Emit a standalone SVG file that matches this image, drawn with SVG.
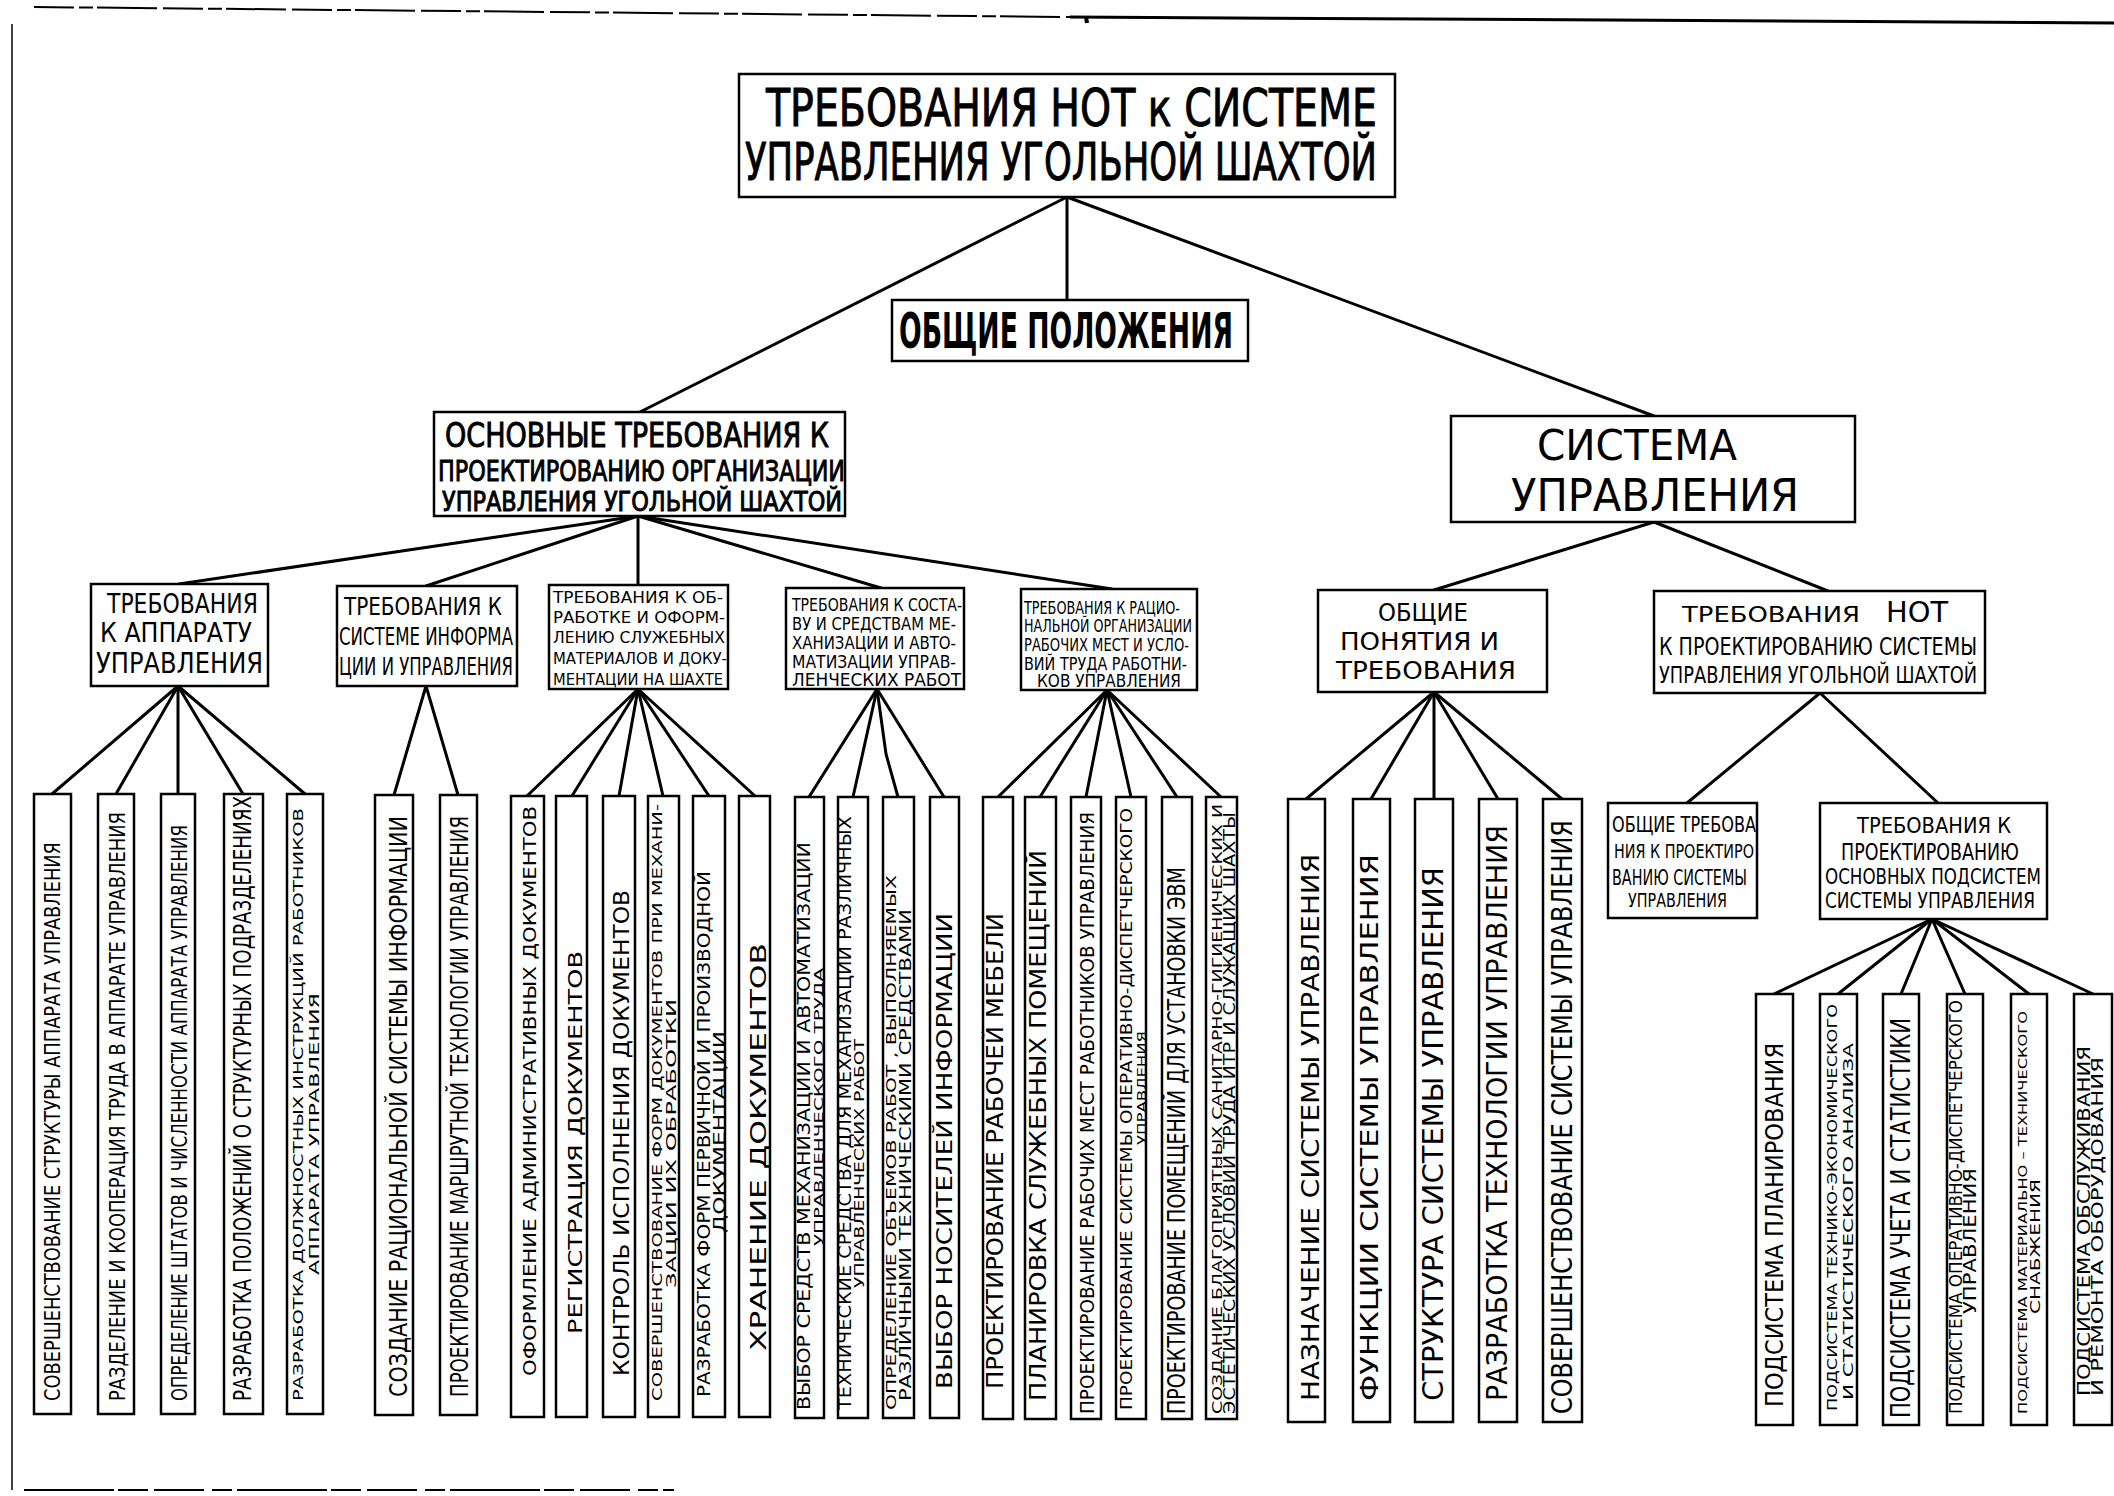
<svg xmlns="http://www.w3.org/2000/svg" width="2114" height="1496" viewBox="0 0 2114 1496">
<style>
.bx{fill:#fff;stroke:#000;stroke-width:2.5}
.lf{fill:#fff;stroke:#000;stroke-width:2.5}
.c{stroke:#000;stroke-width:3;fill:none;stroke-linecap:round}
.fr{stroke:#000;fill:none}
text{font-family:"Liberation Sans Narrow","DejaVu Sans Condensed","Liberation Sans",sans-serif;fill:#000}
.b{font-weight:bold}
.h{stroke:#000;stroke-width:0.9}
</style>
<rect width="2114" height="1496" fill="#fff"/>
<g id="frame">
<line class="fr" x1="34" y1="7" x2="1070" y2="17" stroke-width="2" stroke-dasharray="40 5 14 4 60 6"/>
<line class="fr" x1="1070" y1="17" x2="2114" y2="23" stroke-width="3"/>
<line class="fr" x1="1086" y1="17" x2="1087" y2="23" stroke-width="4"/>
<line class="fr" x1="12" y1="24" x2="12" y2="1490" stroke-width="1.5"/>
<line class="fr" x1="24" y1="1490" x2="674" y2="1490" stroke-width="2" stroke-dasharray="90 4 30 6 50 8 20 5"/>
</g>
<g id="connectors">
<line class="c" x1="1067" y1="197" x2="1067" y2="300" stroke-width="2"/>
<line class="c" x1="1067" y1="197" x2="640" y2="412" stroke-width="2.5"/>
<line class="c" x1="1067" y1="197" x2="1654" y2="416" stroke-width="2.5"/>
<line class="c" x1="638" y1="516" x2="179" y2="584"/>
<line class="c" x1="638" y1="516" x2="426" y2="586"/>
<line class="c" x1="638" y1="516" x2="638" y2="585"/>
<line class="c" x1="638" y1="516" x2="881" y2="588"/>
<line class="c" x1="638" y1="516" x2="1112" y2="589"/>
<line class="c" x1="1654" y1="522" x2="1434" y2="590"/>
<line class="c" x1="1654" y1="522" x2="1828" y2="591"/>
<line class="c" x1="1820" y1="693" x2="1687" y2="803"/>
<line class="c" x1="1820" y1="693" x2="1938" y2="803"/>
<line class="c" x1="178" y1="686" x2="52" y2="794"/>
<line class="c" x1="178" y1="686" x2="116" y2="794"/>
<line class="c" x1="178" y1="686" x2="178" y2="794"/>
<line class="c" x1="178" y1="686" x2="243" y2="794"/>
<line class="c" x1="178" y1="686" x2="305" y2="794"/>
<line class="c" x1="426" y1="686" x2="394" y2="795"/>
<line class="c" x1="426" y1="686" x2="458" y2="795"/>
<line class="c" x1="638" y1="689" x2="527" y2="796"/>
<line class="c" x1="638" y1="689" x2="572" y2="796"/>
<line class="c" x1="638" y1="689" x2="619" y2="796"/>
<line class="c" x1="638" y1="689" x2="663" y2="796"/>
<line class="c" x1="638" y1="689" x2="709" y2="796"/>
<line class="c" x1="638" y1="689" x2="755" y2="796"/>
<line class="c" x1="877" y1="689" x2="809" y2="797"/>
<line class="c" x1="877" y1="689" x2="853" y2="797"/>
<polyline class="c" points="877,689 886,754 898,797"/>
<line class="c" x1="877" y1="689" x2="944" y2="797"/>
<line class="c" x1="1107" y1="690" x2="998" y2="797"/>
<line class="c" x1="1107" y1="690" x2="1040" y2="797"/>
<line class="c" x1="1107" y1="690" x2="1086" y2="797"/>
<line class="c" x1="1107" y1="690" x2="1131" y2="797"/>
<line class="c" x1="1107" y1="690" x2="1177" y2="797"/>
<line class="c" x1="1107" y1="690" x2="1221" y2="797"/>
<line class="c" x1="1434" y1="692" x2="1306" y2="799"/>
<line class="c" x1="1434" y1="692" x2="1371" y2="799"/>
<line class="c" x1="1434" y1="692" x2="1434" y2="799"/>
<line class="c" x1="1434" y1="692" x2="1498" y2="799"/>
<line class="c" x1="1434" y1="692" x2="1562" y2="799"/>
<line class="c" x1="1932" y1="919" x2="1774" y2="994"/>
<line class="c" x1="1932" y1="919" x2="1838" y2="994"/>
<line class="c" x1="1932" y1="919" x2="1901" y2="994"/>
<line class="c" x1="1932" y1="919" x2="1965" y2="994"/>
<line class="c" x1="1932" y1="919" x2="2029" y2="994"/>
<line class="c" x1="1932" y1="919" x2="2093" y2="994"/>
</g>
<g id="title">
<rect class="bx" x="739" y="74" width="656" height="123"/>
<text class="h" x="766" y="126" font-size="52" textLength="611" lengthAdjust="spacingAndGlyphs">ТРЕБОВАНИЯ НОТ к СИСТЕМЕ</text>
<text class="h" x="745" y="180" font-size="51" textLength="632" lengthAdjust="spacingAndGlyphs">УПРАВЛЕНИЯ  УГОЛЬНОЙ ШАХТОЙ</text>
</g>
<g id="obshchie-polozheniya">
<rect class="bx" x="892" y="300" width="356" height="61"/>
<text class="b" x="899" y="348" font-size="49" textLength="334" lengthAdjust="spacingAndGlyphs">ОБЩИЕ ПОЛОЖЕНИЯ</text>
</g>
<g id="osnovnye">
<rect class="bx" x="434" y="412" width="411" height="104"/>
<text class="h" x="445" y="447" font-size="34" textLength="384" lengthAdjust="spacingAndGlyphs">ОСНОВНЫЕ ТРЕБОВАНИЯ К</text>
<text class="h" x="438" y="481" font-size="29" textLength="407" lengthAdjust="spacingAndGlyphs">ПРОЕКТИРОВАНИЮ ОРГАНИЗАЦИИ</text>
<text class="h" x="442" y="511" font-size="26" textLength="400" lengthAdjust="spacingAndGlyphs">УПРАВЛЕНИЯ УГОЛЬНОЙ ШАХТОЙ</text>
</g>
<g id="sistema">
<rect class="bx" x="1451" y="416" width="404" height="106"/>
<text x="1537" y="460" font-size="43" textLength="200" lengthAdjust="spacingAndGlyphs">СИСТЕМА</text>
<text x="1511" y="511" font-size="45" textLength="288" lengthAdjust="spacingAndGlyphs">УПРАВЛЕНИЯ</text>
</g>
<g id="A">
<rect class="bx" x="91" y="584" width="177" height="102"/>
<text x="107" y="613" font-size="26" textLength="151" lengthAdjust="spacingAndGlyphs">ТРЕБОВАНИЯ</text>
<text x="100" y="642" font-size="27" textLength="152" lengthAdjust="spacingAndGlyphs">К АППАРАТУ</text>
<text x="96" y="673" font-size="29" textLength="167" lengthAdjust="spacingAndGlyphs">УПРАВЛЕНИЯ</text>
</g>
<g id="B">
<rect class="bx" x="337" y="586" width="180" height="100"/>
<text x="344" y="615" font-size="25" textLength="158" lengthAdjust="spacingAndGlyphs">ТРЕБОВАНИЯ К</text>
<text x="339" y="645" font-size="25" textLength="174" lengthAdjust="spacingAndGlyphs">СИСТЕМЕ ИНФОРМА</text>
<text x="339" y="675" font-size="25" textLength="174" lengthAdjust="spacingAndGlyphs">ЦИИ И УПРАВЛЕНИЯ</text>
</g>
<g id="C">
<rect class="bx" x="549" y="585" width="179" height="104"/>
<text x="553" y="603" font-size="16" textLength="170" lengthAdjust="spacingAndGlyphs">ТРЕБОВАНИЯ К ОБ-</text>
<text x="553" y="623" font-size="16" textLength="172" lengthAdjust="spacingAndGlyphs">РАБОТКЕ И ОФОРМ-</text>
<text x="553" y="643" font-size="16" textLength="172" lengthAdjust="spacingAndGlyphs">ЛЕНИЮ СЛУЖЕБНЫХ</text>
<text x="553" y="664" font-size="16" textLength="174" lengthAdjust="spacingAndGlyphs">МАТЕРИАЛОВ И ДОКУ-</text>
<text x="553" y="685" font-size="16" textLength="170" lengthAdjust="spacingAndGlyphs">МЕНТАЦИИ НА ШАХТЕ</text>
</g>
<g id="D">
<rect class="bx" x="786" y="588" width="178" height="101"/>
<text x="792" y="611" font-size="18" textLength="170" lengthAdjust="spacingAndGlyphs">ТРЕБОВАНИЯ К СОСТА-</text>
<text x="792" y="630" font-size="18" textLength="164" lengthAdjust="spacingAndGlyphs">ВУ И СРЕДСТВАМ МЕ-</text>
<text x="792" y="649" font-size="18" textLength="164" lengthAdjust="spacingAndGlyphs">ХАНИЗАЦИИ И АВТО-</text>
<text x="792" y="668" font-size="18" textLength="164" lengthAdjust="spacingAndGlyphs">МАТИЗАЦИИ УПРАВ-</text>
<text x="792" y="686" font-size="18" textLength="169" lengthAdjust="spacingAndGlyphs">ЛЕНЧЕСКИХ РАБОТ</text>
</g>
<g id="E">
<rect class="bx" x="1021" y="589" width="176" height="101"/>
<text x="1024" y="614" font-size="17" textLength="156" lengthAdjust="spacingAndGlyphs">ТРЕБОВАНИЯ К РАЦИО-</text>
<text x="1024" y="632" font-size="17" textLength="168" lengthAdjust="spacingAndGlyphs">НАЛЬНОЙ ОРГАНИЗАЦИИ</text>
<text x="1024" y="651" font-size="17" textLength="165" lengthAdjust="spacingAndGlyphs">РАБОЧИХ МЕСТ И УСЛО-</text>
<text x="1024" y="670" font-size="17" textLength="163" lengthAdjust="spacingAndGlyphs">ВИЙ ТРУДА РАБОТНИ-</text>
<text x="1037" y="687" font-size="17" textLength="144" lengthAdjust="spacingAndGlyphs">КОВ  УПРАВЛЕНИЯ</text>
</g>
<g id="F">
<rect class="bx" x="1318" y="590" width="229" height="102"/>
<text x="1378" y="621" font-size="25" textLength="90" lengthAdjust="spacingAndGlyphs">ОБЩИЕ</text>
<text x="1340" y="650" font-size="25" textLength="159" lengthAdjust="spacingAndGlyphs">ПОНЯТИЯ И</text>
<text x="1336" y="679" font-size="25" textLength="180" lengthAdjust="spacingAndGlyphs">ТРЕБОВАНИЯ</text>
</g>
<g id="G">
<rect class="bx" x="1654" y="591" width="331" height="102"/>
<text x="1682" y="622" font-size="22" textLength="178" lengthAdjust="spacingAndGlyphs">ТРЕБОВАНИЯ</text>
<text x="1886" y="622" font-size="29" textLength="62" lengthAdjust="spacingAndGlyphs">НОТ</text>
<text x="1659" y="655" font-size="24" textLength="318" lengthAdjust="spacingAndGlyphs">К ПРОЕКТИРОВАНИЮ СИСТЕМЫ</text>
<text x="1659" y="683" font-size="23" textLength="318" lengthAdjust="spacingAndGlyphs">УПРАВЛЕНИЯ  УГОЛЬНОЙ ШАХТОЙ</text>
</g>
<g id="H">
<rect class="bx" x="1608" y="803" width="149" height="115"/>
<text x="1612" y="832" font-size="21" textLength="144" lengthAdjust="spacingAndGlyphs">ОБЩИЕ ТРЕБОВА</text>
<text x="1614" y="858" font-size="19" textLength="140" lengthAdjust="spacingAndGlyphs">НИЯ К ПРОЕКТИРО</text>
<text x="1612" y="885" font-size="21" textLength="135" lengthAdjust="spacingAndGlyphs">ВАНИЮ СИСТЕМЫ</text>
<text x="1628" y="907" font-size="20" textLength="99" lengthAdjust="spacingAndGlyphs">УПРАВЛЕНИЯ</text>
</g>
<g id="I">
<rect class="bx" x="1820" y="803" width="227" height="116"/>
<text x="1857" y="833" font-size="21" textLength="154" lengthAdjust="spacingAndGlyphs">ТРЕБОВАНИЯ К</text>
<text x="1841" y="860" font-size="23" textLength="178" lengthAdjust="spacingAndGlyphs">ПРОЕКТИРОВАНИЮ</text>
<text x="1825" y="884" font-size="22" textLength="216" lengthAdjust="spacingAndGlyphs">ОСНОВНЫХ ПОДСИСТЕМ</text>
<text x="1825" y="908" font-size="21" textLength="210" lengthAdjust="spacingAndGlyphs">СИСТЕМЫ УПРАВЛЕНИЯ</text>
</g>
<g id="a1"><rect class="lf" x="34" y="794" width="37" height="620"/><text transform="translate(60,1401) rotate(-90)" font-size="22" textLength="559" lengthAdjust="spacingAndGlyphs">СОВЕРШЕНСТВОВАНИЕ СТРУКТУРЫ  АППАРАТА  УПРАВЛЕНИЯ</text></g>
<g id="a2"><rect class="lf" x="98" y="794" width="36" height="620"/><text transform="translate(125,1401) rotate(-90)" font-size="22" textLength="589" lengthAdjust="spacingAndGlyphs">РАЗДЕЛЕНИЕ И КООПЕРАЦИЯ  ТРУДА В АППАРАТЕ  УПРАВЛЕНИЯ</text></g>
<g id="a3"><rect class="lf" x="161" y="794" width="34" height="620"/><text transform="translate(187,1401) rotate(-90)" font-size="22" textLength="576" lengthAdjust="spacingAndGlyphs">ОПРЕДЕЛЕНИЕ ШТАТОВ И ЧИСЛЕННОСТИ АППАРАТА  УПРАВЛЕНИЯ</text></g>
<g id="a4"><rect class="lf" x="224" y="794" width="39" height="620"/><text transform="translate(251,1401) rotate(-90)" font-size="24" textLength="605" lengthAdjust="spacingAndGlyphs">РАЗРАБОТКА  ПОЛОЖЕНИЙ  О  СТРУКТУРНЫХ ПОДРАЗДЕЛЕНИЯХ</text></g>
<g id="a5"><rect class="lf" x="287" y="794" width="36" height="620"/><text transform="translate(303,1401) rotate(-90)" font-size="14" textLength="593" lengthAdjust="spacingAndGlyphs">РАЗРАБОТКА ДОЛЖНОСТНЫХ ИНСТРУКЦИЙ РАБОТНИКОВ</text><text transform="translate(319,1275) rotate(-90)" font-size="14" textLength="282" lengthAdjust="spacingAndGlyphs">АППАРАТА  УПРАВЛЕНИЯ</text></g>
<g id="b1"><rect class="lf" x="375" y="795" width="38" height="620"/><text transform="translate(407,1397) rotate(-90)" font-size="25" textLength="581" lengthAdjust="spacingAndGlyphs">СОЗДАНИЕ  РАЦИОНАЛЬНОЙ  СИСТЕМЫ ИНФОРМАЦИИ</text></g>
<g id="b2"><rect class="lf" x="440" y="795" width="37" height="620"/><text transform="translate(468,1397) rotate(-90)" font-size="25" textLength="581" lengthAdjust="spacingAndGlyphs">ПРОЕКТИРОВАНИЕ МАРШРУТНОЙ  ТЕХНОЛОГИИ УПРАВЛЕНИЯ</text></g>
<g id="c1"><rect class="lf" x="511" y="796" width="33" height="621"/><text transform="translate(536,1376) rotate(-90)" font-size="18" textLength="570" lengthAdjust="spacingAndGlyphs">ОФОРМЛЕНИЕ  АДМИНИСТРАТИВНЫХ ДОКУМЕНТОВ</text></g>
<g id="c2"><rect class="lf" x="556" y="796" width="31" height="621"/><text transform="translate(582,1334) rotate(-90)" font-size="20" textLength="383" lengthAdjust="spacingAndGlyphs">РЕГИСТРАЦИЯ  ДОКУМЕНТОВ</text></g>
<g id="c3"><rect class="lf" x="603" y="796" width="32" height="621"/><text transform="translate(629,1376) rotate(-90)" font-size="21" textLength="486" lengthAdjust="spacingAndGlyphs">КОНТРОЛЬ  ИСПОЛНЕНИЯ  ДОКУМЕНТОВ</text></g>
<g id="c4"><rect class="lf" x="648" y="796" width="31" height="621"/><text transform="translate(662,1401) rotate(-90)" font-size="14" textLength="597" lengthAdjust="spacingAndGlyphs">СОВЕРШЕНСТВОВАНИЕ ФОРМ ДОКУМЕНТОВ ПРИ МЕХАНИ-</text><text transform="translate(676,1288) rotate(-90)" font-size="14" textLength="289" lengthAdjust="spacingAndGlyphs">ЗАЦИИ ИХ ОБРАБОТКИ</text></g>
<g id="c5"><rect class="lf" x="693" y="796" width="32" height="621"/><text transform="translate(710,1397) rotate(-90)" font-size="17" textLength="526" lengthAdjust="spacingAndGlyphs">РАЗРАБОТКА  ФОРМ ПЕРВИЧНОЙ  И  ПРОИЗВОДНОЙ</text><text transform="translate(725,1233) rotate(-90)" font-size="15" textLength="202" lengthAdjust="spacingAndGlyphs">ДОКУМЕНТАЦИИ</text></g>
<g id="c6"><rect class="lf" x="739" y="796" width="31" height="621"/><text transform="translate(766,1351) rotate(-90)" font-size="22" textLength="408" lengthAdjust="spacingAndGlyphs">ХРАНЕНИЕ  ДОКУМЕНТОВ</text></g>
<g id="d1"><rect class="lf" x="795" y="797" width="29" height="621"/><text transform="translate(810,1410) rotate(-90)" font-size="17" textLength="568" lengthAdjust="spacingAndGlyphs">ВЫБОР  СРЕДСТВ МЕХАНИЗАЦИИ  И  АВТОМАТИЗАЦИИ</text><text transform="translate(823,1246) rotate(-90)" font-size="13" textLength="278" lengthAdjust="spacingAndGlyphs">УПРАВЛЕНЧЕСКОГО  ТРУДА</text></g>
<g id="d2"><rect class="lf" x="838" y="797" width="30" height="621"/><text transform="translate(851,1410) rotate(-90)" font-size="17" textLength="594" lengthAdjust="spacingAndGlyphs">ТЕХНИЧЕСКИЕ  СРЕДСТВА ДЛЯ МЕХАНИЗАЦИИ РАЗЛИЧНЫХ</text><text transform="translate(864,1288) rotate(-90)" font-size="14" textLength="249" lengthAdjust="spacingAndGlyphs">УПРАВЛЕНЧЕСКИХ  РАБОТ</text></g>
<g id="d3"><rect class="lf" x="883" y="797" width="31" height="621"/><text transform="translate(896,1410) rotate(-90)" font-size="14" textLength="535" lengthAdjust="spacingAndGlyphs">ОПРЕДЕЛЕНИЕ  ОБЪЕМОВ  РАБОТ ,  ВЫПОЛНЯЕМЫХ</text><text transform="translate(911,1401) rotate(-90)" font-size="16" textLength="492" lengthAdjust="spacingAndGlyphs">РАЗЛИЧНЫМИ  ТЕХНИЧЕСКИМИ  СРЕДСТВАМИ</text></g>
<g id="d4"><rect class="lf" x="930" y="797" width="29" height="621"/><text transform="translate(952,1389) rotate(-90)" font-size="22" textLength="476" lengthAdjust="spacingAndGlyphs">ВЫБОР  НОСИТЕЛЕЙ  ИНФОРМАЦИИ</text></g>
<g id="e1"><rect class="lf" x="983" y="797" width="30" height="622"/><text transform="translate(1003,1389) rotate(-90)" font-size="23" textLength="476" lengthAdjust="spacingAndGlyphs">ПРОЕКТИРОВАНИЕ  РАБОЧЕЙ   МЕБЕЛИ</text></g>
<g id="e2"><rect class="lf" x="1025" y="797" width="31" height="622"/><text transform="translate(1046,1401) rotate(-90)" font-size="23" textLength="551" lengthAdjust="spacingAndGlyphs">ПЛАНИРОВКА  СЛУЖЕБНЫХ  ПОМЕЩЕНИЙ</text></g>
<g id="e3"><rect class="lf" x="1071" y="797" width="30" height="622"/><text transform="translate(1094,1414) rotate(-90)" font-size="20" textLength="602" lengthAdjust="spacingAndGlyphs">ПРОЕКТИРОВАНИЕ РАБОЧИХ МЕСТ РАБОТНИКОВ УПРАВЛЕНИЯ</text></g>
<g id="e4"><rect class="lf" x="1116" y="797" width="30" height="622"/><text transform="translate(1132,1410) rotate(-90)" font-size="16" textLength="602" lengthAdjust="spacingAndGlyphs">ПРОЕКТИРОВАНИЕ  СИСТЕМЫ ОПЕРАТИВНО-ДИСПЕТЧЕРСКОГО</text><text transform="translate(1146,1145) rotate(-90)" font-size="13" textLength="114" lengthAdjust="spacingAndGlyphs">УПРАВЛЕНИЯ</text></g>
<g id="e5"><rect class="lf" x="1162" y="797" width="30" height="622"/><text transform="translate(1185,1414) rotate(-90)" font-size="25" textLength="547" lengthAdjust="spacingAndGlyphs">ПРОЕКТИРОВАНИЕ ПОМЕЩЕНИЙ ДЛЯ УСТАНОВКИ  ЭВМ</text></g>
<g id="e6"><rect class="lf" x="1206" y="797" width="31" height="622"/><text transform="translate(1222,1414) rotate(-90)" font-size="14" textLength="610" lengthAdjust="spacingAndGlyphs">СОЗДАНИЕ БЛАГОПРИЯТНЫХ САНИТАРНО-ГИГИЕНИЧЕСКИХ И</text><text transform="translate(1235,1414) rotate(-90)" font-size="15" textLength="602" lengthAdjust="spacingAndGlyphs">ЭСТЕТИЧЕСКИХ УСЛОВИЙ ТРУДА ИТР И СЛУЖАЩИХ ШАХТЫ</text></g>
<g id="f1"><rect class="lf" x="1288" y="799" width="37" height="623"/><text transform="translate(1319,1401) rotate(-90)" font-size="24" textLength="547" lengthAdjust="spacingAndGlyphs">НАЗНАЧЕНИЕ   СИСТЕМЫ   УПРАВЛЕНИЯ</text></g>
<g id="f2"><rect class="lf" x="1353" y="799" width="37" height="623"/><text transform="translate(1378,1401) rotate(-90)" font-size="25" textLength="547" lengthAdjust="spacingAndGlyphs">ФУНКЦИИ  СИСТЕМЫ  УПРАВЛЕНИЯ</text></g>
<g id="f3"><rect class="lf" x="1415" y="799" width="38" height="623"/><text transform="translate(1443,1401) rotate(-90)" font-size="28" textLength="534" lengthAdjust="spacingAndGlyphs">СТРУКТУРА  СИСТЕМЫ  УПРАВЛЕНИЯ</text></g>
<g id="f4"><rect class="lf" x="1479" y="799" width="38" height="623"/><text transform="translate(1507,1401) rotate(-90)" font-size="28" textLength="576" lengthAdjust="spacingAndGlyphs">РАЗРАБОТКА ТЕХНОЛОГИИ УПРАВЛЕНИЯ</text></g>
<g id="f5"><rect class="lf" x="1543" y="799" width="39" height="623"/><text transform="translate(1572,1414) rotate(-90)" font-size="28" textLength="594" lengthAdjust="spacingAndGlyphs">СОВЕРШЕНСТВОВАНИЕ СИСТЕМЫ УПРАВЛЕНИЯ</text></g>
<g id="i1"><rect class="lf" x="1756" y="994" width="37" height="431"/><text transform="translate(1783,1407) rotate(-90)" font-size="24" textLength="364" lengthAdjust="spacingAndGlyphs">ПОДСИСТЕМА  ПЛАНИРОВАНИЯ</text></g>
<g id="i2"><rect class="lf" x="1820" y="994" width="37" height="431"/><text transform="translate(1837,1411) rotate(-90)" font-size="14" textLength="407" lengthAdjust="spacingAndGlyphs">ПОДСИСТЕМА ТЕХНИКО-ЭКОНОМИЧЕСКОГО</text><text transform="translate(1853,1400) rotate(-90)" font-size="14" textLength="357" lengthAdjust="spacingAndGlyphs">И СТАТИСТИЧЕСКОГО  АНАЛИЗА</text></g>
<g id="i3"><rect class="lf" x="1883" y="994" width="36" height="431"/><text transform="translate(1910,1418) rotate(-90)" font-size="26" textLength="400" lengthAdjust="spacingAndGlyphs">ПОДСИСТЕМА УЧЕТА И СТАТИСТИКИ</text></g>
<g id="i4"><rect class="lf" x="1947" y="994" width="36" height="431"/><text transform="translate(1962,1414) rotate(-90)" font-size="17" textLength="414" lengthAdjust="spacingAndGlyphs">ПОДСИСТЕМА ОПЕРАТИВНО-ДИСПЕТЧЕРСКОГО</text><text transform="translate(1976,1314) rotate(-90)" font-size="18" textLength="146" lengthAdjust="spacingAndGlyphs">УПРАВЛЕНИЯ</text></g>
<g id="i5"><rect class="lf" x="2011" y="994" width="36" height="431"/><text transform="translate(2027,1414) rotate(-90)" font-size="13" textLength="403" lengthAdjust="spacingAndGlyphs">ПОДСИСТЕМА МАТЕРИАЛЬНО – ТЕХНИЧЕСКОГО</text><text transform="translate(2040,1314) rotate(-90)" font-size="14" textLength="135" lengthAdjust="spacingAndGlyphs">СНАБЖЕНИЯ</text></g>
<g id="i6"><rect class="lf" x="2074" y="994" width="38" height="431"/><text transform="translate(2090,1396) rotate(-90)" font-size="17" textLength="350" lengthAdjust="spacingAndGlyphs">ПОДСИСТЕМА  ОБСЛУЖИВАНИЯ</text><text transform="translate(2103,1396) rotate(-90)" font-size="15" textLength="339" lengthAdjust="spacingAndGlyphs">И  РЕМОНТА  ОБОРУДОВАНИЯ</text></g>
</svg>
